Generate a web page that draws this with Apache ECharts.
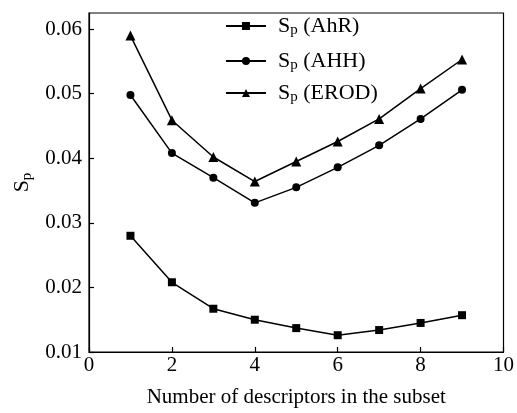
<!DOCTYPE html>
<html>
<head>
<meta charset="utf-8">
<script src="https://cdn.jsdelivr.net/npm/echarts@6/dist/echarts.min.js"></script>
<style>
  html, body { margin: 0; padding: 0; background: #fff; }
  #chart { width: 517px; height: 413px; }
</style>
</head>
<body>
<div id="chart"></div>
<script>
// number of descriptors in the subset
const subsetSizes = [1, 2, 3, 4, 5, 6, 7, 8, 9];
// Sp values per endpoint
const spAhR  = [0.0280, 0.0208, 0.0167, 0.0150, 0.0137, 0.0126, 0.0134, 0.0145, 0.0157];
const spAHH  = [0.0498, 0.0408, 0.0370, 0.0331, 0.0355, 0.0386, 0.0420, 0.0461, 0.0506];
const spEROD = [0.0590, 0.0459, 0.0402, 0.0364, 0.0395, 0.0426, 0.0461, 0.0508, 0.0553];
const seriesNames = ['AhR', 'AHH', 'EROD'];
const seriesSymbols = ['rect', 'circle', 'triangle'];
const xTicks = [0, 2, 4, 6, 8, 10];
const yTicks = [0.01, 0.02, 0.03, 0.04, 0.05, 0.06];

const font = 'Liberation Serif';
// S with subscript p
const subRich = size => ({
  s: { fontFamily: font, fontSize: size, color: '#000' },
  p: { fontFamily: font, fontSize: Math.round(size * 0.7), color: '#000', padding: [Math.round(size * 0.42), 0, 0, 0] },
  t: { fontFamily: font, fontSize: size, color: '#000' }
});

const chart = echarts.init(document.getElementById('chart'));

const allData = [spAhR, spAHH, spEROD];
const legendTops = [15, 50, 82];

chart.setOption({
  animation: false,
  grid: {
    left: 89, right: 11, top: 13, bottom: 60,
    show: true, borderColor: '#000', borderWidth: 1.2
  },
  legend: seriesNames.map((n, i) => ({
    data: ['Sp (' + n + ')'],
    left: 225,
    top: legendTops[i],
    padding: 0,
    itemWidth: 40,
    itemHeight: 10,
    itemGap: 0,
    formatter: () => '{s|S}{p|p}{t| (' + n + ')}',
    textStyle: { rich: subRich(22), padding: [0, 0, 0, 7] }
  })),
  xAxis: {
    type: 'value',
    min: xTicks[0],
    max: xTicks[xTicks.length - 1],
    interval: 2,
    name: 'Number of descriptors in the subset',
    nameLocation: 'middle',
    nameGap: 35,
    nameTextStyle: { fontFamily: font, fontSize: 21, color: '#000' },
    axisLine: { lineStyle: { color: '#000', width: 1.2 } },
    axisTick: { inside: true, length: 5, lineStyle: { color: '#000', width: 1.2 } },
    axisLabel: { fontFamily: font, fontSize: 21, color: '#000', margin: 3 },
    splitLine: { show: false }
  },
  yAxis: {
    type: 'value',
    min: yTicks[0],
    max: 0.0625,
    interval: 0.01,
    name: '{s|S}{p|p}',
    nameLocation: 'middle',
    nameGap: 52,
    nameTextStyle: { rich: subRich(22) },
    axisLine: { lineStyle: { color: '#000', width: 1.2 } },
    axisTick: { inside: true, length: 5, lineStyle: { color: '#000', width: 1.2 } },
    axisLabel: {
      fontFamily: font, fontSize: 21, color: '#000', margin: 7,
      showMaxLabel: false,
      formatter: v => v.toFixed(2)
    },
    splitLine: { show: false }
  },
  series: seriesNames.map((n, i) => ({
    name: 'Sp (' + n + ')',
    type: 'line',
    data: subsetSizes.map((x, j) => [x, allData[i][j]]),
    symbol: seriesSymbols[i],
    symbolSize: i === 2 ? 10 : 8,
    showAllSymbol: true,
    lineStyle: { color: '#000', width: 1.5 },
    itemStyle: { color: '#000' }
  }))
});
</script>
</body>
</html>
